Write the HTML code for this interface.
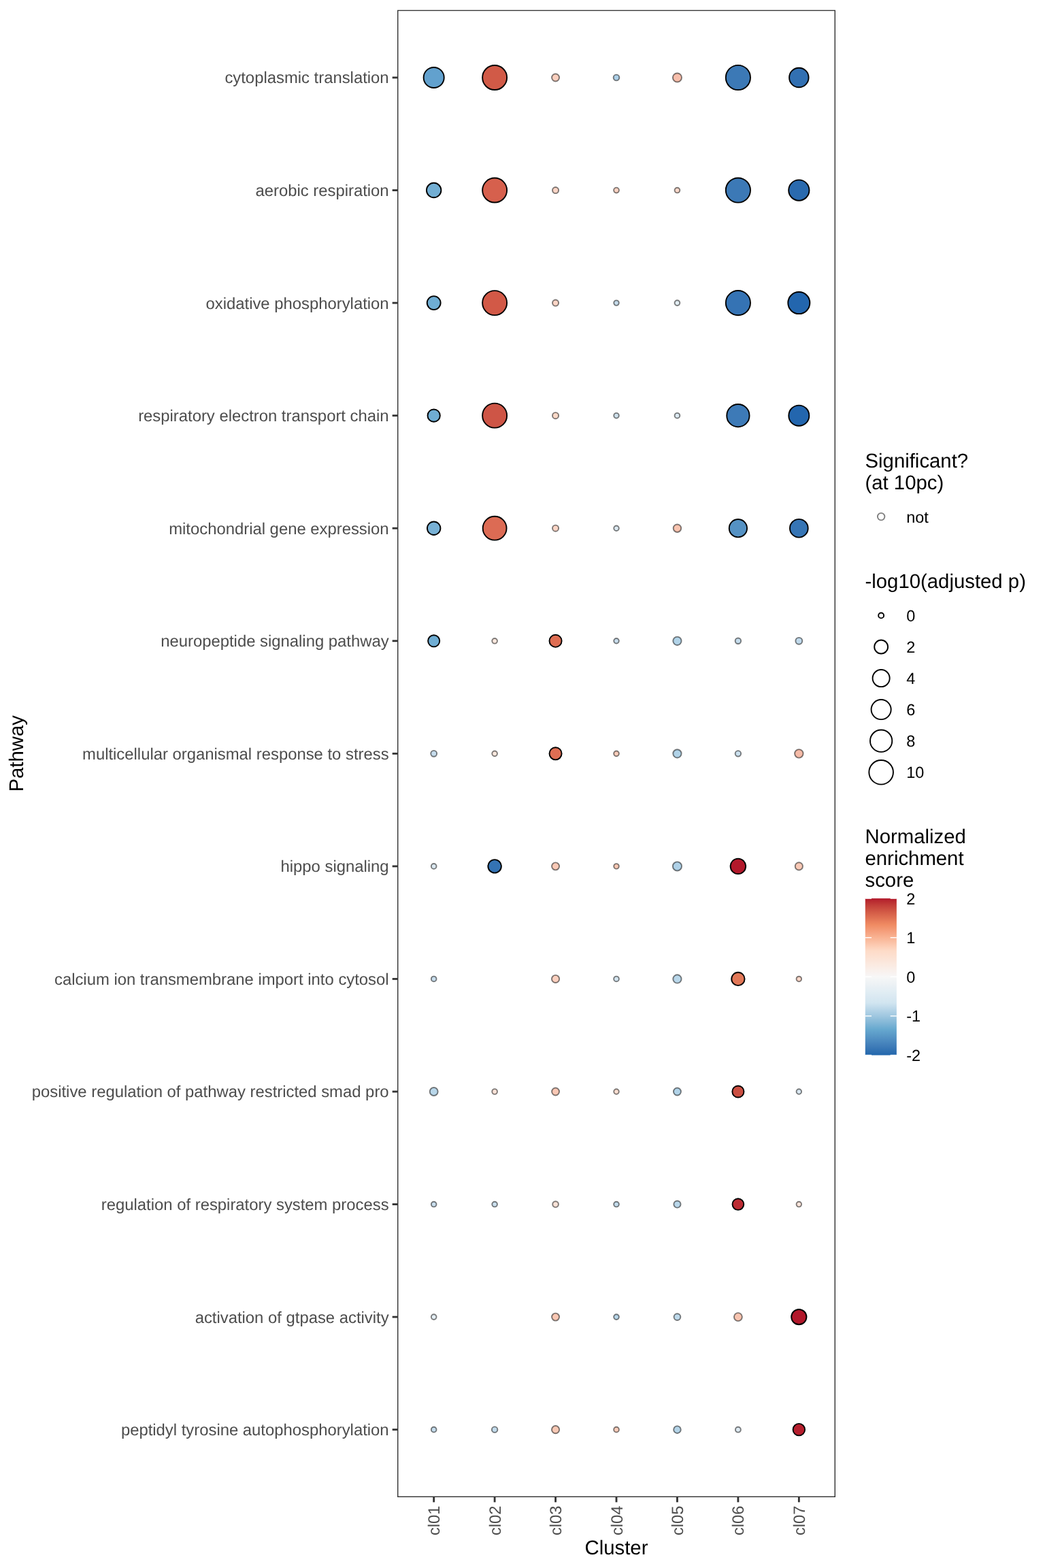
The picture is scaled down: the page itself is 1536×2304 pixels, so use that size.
<!DOCTYPE html>
<html lang="en"><head><meta charset="utf-8"><title>Pathway enrichment dot plot</title>
<style>html,body{margin:0;padding:0;background:#fff}svg{display:block}text{text-rendering:geometricPrecision;font-family:"Liberation Sans",Arial,Helvetica,sans-serif}.a{font-size:23.85px;fill:#4D4D4D}.t{font-size:29.33px;fill:#000}.l{font-size:23.47px;fill:#000}</style></head><body>
<svg width="1536" height="2304" viewBox="0 0 1536 2304">
<rect width="1536" height="2304" fill="#fff"/>
<defs><linearGradient id="g" x1="0" y1="0" x2="0" y2="1">
<stop offset="0.000%" stop-color="#B2182B"/>
<stop offset="2.083%" stop-color="#BA2D31"/>
<stop offset="4.167%" stop-color="#C23D38"/>
<stop offset="6.250%" stop-color="#CA4B3F"/>
<stop offset="8.333%" stop-color="#D15845"/>
<stop offset="10.417%" stop-color="#D9654C"/>
<stop offset="12.500%" stop-color="#E07153"/>
<stop offset="14.583%" stop-color="#E87E5B"/>
<stop offset="16.667%" stop-color="#EF8A62"/>
<stop offset="18.750%" stop-color="#F2946E"/>
<stop offset="20.833%" stop-color="#F59E7B"/>
<stop offset="22.917%" stop-color="#F7A987"/>
<stop offset="25.000%" stop-color="#F9B393"/>
<stop offset="27.083%" stop-color="#FABDA0"/>
<stop offset="29.167%" stop-color="#FCC7AD"/>
<stop offset="31.250%" stop-color="#FDD1BA"/>
<stop offset="33.333%" stop-color="#FDDBC7"/>
<stop offset="35.417%" stop-color="#FDDECD"/>
<stop offset="37.500%" stop-color="#FCE2D3"/>
<stop offset="39.583%" stop-color="#FBE5D9"/>
<stop offset="41.667%" stop-color="#FBE9DF"/>
<stop offset="43.750%" stop-color="#FAECE5"/>
<stop offset="45.833%" stop-color="#F9F0EB"/>
<stop offset="47.917%" stop-color="#F8F3F1"/>
<stop offset="50.000%" stop-color="#F7F7F7"/>
<stop offset="52.083%" stop-color="#F2F5F6"/>
<stop offset="54.167%" stop-color="#EEF2F5"/>
<stop offset="56.250%" stop-color="#E9F0F4"/>
<stop offset="58.333%" stop-color="#E4EEF4"/>
<stop offset="60.417%" stop-color="#DFECF3"/>
<stop offset="62.500%" stop-color="#DBE9F2"/>
<stop offset="64.583%" stop-color="#D6E7F1"/>
<stop offset="66.667%" stop-color="#D1E5F0"/>
<stop offset="68.750%" stop-color="#C5DDEC"/>
<stop offset="70.833%" stop-color="#B8D6E8"/>
<stop offset="72.917%" stop-color="#ABCEE4"/>
<stop offset="75.000%" stop-color="#9FC7E0"/>
<stop offset="77.083%" stop-color="#91BFDB"/>
<stop offset="79.167%" stop-color="#84B8D7"/>
<stop offset="81.250%" stop-color="#76B0D3"/>
<stop offset="83.333%" stop-color="#67A9CF"/>
<stop offset="85.417%" stop-color="#60A0CB"/>
<stop offset="87.500%" stop-color="#5998C6"/>
<stop offset="89.583%" stop-color="#518FC2"/>
<stop offset="91.667%" stop-color="#4987BE"/>
<stop offset="93.750%" stop-color="#417EB9"/>
<stop offset="95.833%" stop-color="#3776B5"/>
<stop offset="97.917%" stop-color="#2D6EB0"/>
<stop offset="100.000%" stop-color="#2166AC"/>
</linearGradient>
<clipPath id="pc"><rect x="584.0" y="14.67" width="644.0" height="2185.33"/></clipPath></defs>
<g stroke-width="1.89">
<circle cx="637.67" cy="114.00" r="15.05" fill="#62A1CE" stroke="#000"/>
<circle cx="727.11" cy="114.00" r="18.00" fill="#D15A47" stroke="#000"/>
<circle cx="816.56" cy="114.00" r="5.50" fill="#FACFBE" stroke="#000" stroke-opacity="0.5"/>
<circle cx="906.00" cy="114.00" r="4.35" fill="#ADD0E8" stroke="#000" stroke-opacity="0.5"/>
<circle cx="995.44" cy="114.00" r="6.55" fill="#F7BEAB" stroke="#000" stroke-opacity="0.5"/>
<circle cx="1084.89" cy="114.00" r="18.11" fill="#3C79B6" stroke="#000"/>
<circle cx="1174.33" cy="114.00" r="14.25" fill="#3270B2" stroke="#000"/>
<circle cx="637.67" cy="279.56" r="10.75" fill="#72AED3" stroke="#000"/>
<circle cx="727.11" cy="279.56" r="18.00" fill="#D6604D" stroke="#000"/>
<circle cx="816.56" cy="279.56" r="4.55" fill="#FBD5C6" stroke="#000" stroke-opacity="0.5"/>
<circle cx="906.00" cy="279.56" r="3.90" fill="#FBD3C3" stroke="#000" stroke-opacity="0.5"/>
<circle cx="995.44" cy="279.56" r="3.85" fill="#FBD9CB" stroke="#000" stroke-opacity="0.5"/>
<circle cx="1084.89" cy="279.56" r="18.11" fill="#3C79B6" stroke="#000"/>
<circle cx="1174.33" cy="279.56" r="15.16" fill="#2A6AAE" stroke="#000"/>
<circle cx="637.67" cy="445.11" r="9.96" fill="#6FADD3" stroke="#000"/>
<circle cx="727.11" cy="445.11" r="18.00" fill="#D25947" stroke="#000"/>
<circle cx="816.56" cy="445.11" r="4.55" fill="#FBD5C6" stroke="#000" stroke-opacity="0.5"/>
<circle cx="906.00" cy="445.11" r="3.76" fill="#C5DBEA" stroke="#000" stroke-opacity="0.5"/>
<circle cx="995.44" cy="445.11" r="3.85" fill="#E3EEF4" stroke="#000" stroke-opacity="0.5"/>
<circle cx="1084.89" cy="445.11" r="18.11" fill="#3573B4" stroke="#000"/>
<circle cx="1174.33" cy="445.11" r="16.05" fill="#2366AE" stroke="#000"/>
<circle cx="637.67" cy="610.67" r="9.15" fill="#6FADD3" stroke="#000"/>
<circle cx="727.11" cy="610.67" r="18.00" fill="#CE5546" stroke="#000"/>
<circle cx="816.56" cy="610.67" r="4.55" fill="#FBD9C8" stroke="#000" stroke-opacity="0.5"/>
<circle cx="906.00" cy="610.67" r="3.76" fill="#CFE1EC" stroke="#000" stroke-opacity="0.5"/>
<circle cx="995.44" cy="610.67" r="3.85" fill="#DDEAF2" stroke="#000" stroke-opacity="0.5"/>
<circle cx="1084.89" cy="610.67" r="16.66" fill="#3D7AB7" stroke="#000"/>
<circle cx="1174.33" cy="610.67" r="15.05" fill="#2366AE" stroke="#000"/>
<circle cx="637.67" cy="776.22" r="9.75" fill="#78B1D5" stroke="#000"/>
<circle cx="727.11" cy="776.22" r="17.45" fill="#DC6B54" stroke="#000"/>
<circle cx="816.56" cy="776.22" r="4.55" fill="#FBD5C6" stroke="#000" stroke-opacity="0.5"/>
<circle cx="906.00" cy="776.22" r="3.76" fill="#DCE9F1" stroke="#000" stroke-opacity="0.5"/>
<circle cx="995.44" cy="776.22" r="5.75" fill="#F9C4B0" stroke="#000" stroke-opacity="0.5"/>
<circle cx="1084.89" cy="776.22" r="13.15" fill="#5592C4" stroke="#000"/>
<circle cx="1174.33" cy="776.22" r="13.36" fill="#3675B5" stroke="#000"/>
<circle cx="637.67" cy="941.78" r="8.55" fill="#6FADD3" stroke="#000"/>
<circle cx="727.11" cy="941.78" r="3.85" fill="#FBE9DF" stroke="#000" stroke-opacity="0.5"/>
<circle cx="816.56" cy="941.78" r="9.05" fill="#DF6E53" stroke="#000"/>
<circle cx="906.00" cy="941.78" r="3.76" fill="#CADEED" stroke="#000" stroke-opacity="0.5"/>
<circle cx="995.44" cy="941.78" r="6.15" fill="#B1D3E8" stroke="#000" stroke-opacity="0.5"/>
<circle cx="1084.89" cy="941.78" r="4.25" fill="#C6DDED" stroke="#000" stroke-opacity="0.5"/>
<circle cx="1174.33" cy="941.78" r="4.96" fill="#C1DAEC" stroke="#000" stroke-opacity="0.5"/>
<circle cx="637.67" cy="1107.34" r="4.46" fill="#C6DCEC" stroke="#000" stroke-opacity="0.5"/>
<circle cx="727.11" cy="1107.34" r="3.85" fill="#FBE9DF" stroke="#000" stroke-opacity="0.5"/>
<circle cx="816.56" cy="1107.34" r="9.05" fill="#DF6E53" stroke="#000"/>
<circle cx="906.00" cy="1107.34" r="3.85" fill="#F8CDBB" stroke="#000" stroke-opacity="0.5"/>
<circle cx="995.44" cy="1107.34" r="6.15" fill="#B1D3E8" stroke="#000" stroke-opacity="0.5"/>
<circle cx="1084.89" cy="1107.34" r="4.25" fill="#CBE0EE" stroke="#000" stroke-opacity="0.5"/>
<circle cx="1174.33" cy="1107.34" r="6.25" fill="#F5BBA8" stroke="#000" stroke-opacity="0.5"/>
<circle cx="637.67" cy="1272.89" r="3.85" fill="#DCE9F1" stroke="#000" stroke-opacity="0.5"/>
<circle cx="727.11" cy="1272.89" r="9.75" fill="#3473B4" stroke="#000"/>
<circle cx="816.56" cy="1272.89" r="5.50" fill="#F9C9B6" stroke="#000" stroke-opacity="0.5"/>
<circle cx="906.00" cy="1272.89" r="3.76" fill="#F8C9B5" stroke="#000" stroke-opacity="0.5"/>
<circle cx="995.44" cy="1272.89" r="6.55" fill="#AFD1E7" stroke="#000" stroke-opacity="0.5"/>
<circle cx="1084.89" cy="1272.89" r="11.25" fill="#B2182B" stroke="#000"/>
<circle cx="1174.33" cy="1272.89" r="5.60" fill="#F9C9B6" stroke="#000" stroke-opacity="0.5"/>
<circle cx="637.67" cy="1438.45" r="3.85" fill="#C9DEED" stroke="#000" stroke-opacity="0.5"/>
<circle cx="816.56" cy="1438.45" r="5.60" fill="#FBD0BF" stroke="#000" stroke-opacity="0.5"/>
<circle cx="906.00" cy="1438.45" r="3.85" fill="#D4E5F0" stroke="#000" stroke-opacity="0.5"/>
<circle cx="995.44" cy="1438.45" r="6.15" fill="#B9D7EA" stroke="#000" stroke-opacity="0.5"/>
<circle cx="1084.89" cy="1438.45" r="9.65" fill="#E27858" stroke="#000"/>
<circle cx="1174.33" cy="1438.45" r="3.76" fill="#FBD7C9" stroke="#000" stroke-opacity="0.5"/>
<circle cx="637.67" cy="1604.00" r="5.96" fill="#B9D7EA" stroke="#000" stroke-opacity="0.5"/>
<circle cx="727.11" cy="1604.00" r="3.85" fill="#FCE4D9" stroke="#000" stroke-opacity="0.5"/>
<circle cx="816.56" cy="1604.00" r="5.46" fill="#F9C8B5" stroke="#000" stroke-opacity="0.5"/>
<circle cx="906.00" cy="1604.00" r="3.76" fill="#FBDFD2" stroke="#000" stroke-opacity="0.5"/>
<circle cx="995.44" cy="1604.00" r="5.50" fill="#B1D3E8" stroke="#000" stroke-opacity="0.5"/>
<circle cx="1084.89" cy="1604.00" r="8.55" fill="#CB4F42" stroke="#000"/>
<circle cx="1174.33" cy="1604.00" r="3.76" fill="#DAE8F2" stroke="#000" stroke-opacity="0.5"/>
<circle cx="637.67" cy="1769.56" r="3.85" fill="#C9DEED" stroke="#000" stroke-opacity="0.5"/>
<circle cx="727.11" cy="1769.56" r="3.85" fill="#CBE0EE" stroke="#000" stroke-opacity="0.5"/>
<circle cx="816.56" cy="1769.56" r="4.35" fill="#FBE3D8" stroke="#000" stroke-opacity="0.5"/>
<circle cx="906.00" cy="1769.56" r="3.85" fill="#C4DCEC" stroke="#000" stroke-opacity="0.5"/>
<circle cx="995.44" cy="1769.56" r="5.10" fill="#B9D7EA" stroke="#000" stroke-opacity="0.5"/>
<circle cx="1084.89" cy="1769.56" r="8.36" fill="#BC2B33" stroke="#000"/>
<circle cx="1174.33" cy="1769.56" r="3.76" fill="#FBE5DB" stroke="#000" stroke-opacity="0.5"/>
<circle cx="637.67" cy="1935.11" r="3.85" fill="#E5EFF5" stroke="#000" stroke-opacity="0.5"/>
<circle cx="816.56" cy="1935.11" r="5.50" fill="#F9C7B3" stroke="#000" stroke-opacity="0.5"/>
<circle cx="906.00" cy="1935.11" r="3.85" fill="#B9D7EA" stroke="#000" stroke-opacity="0.5"/>
<circle cx="995.44" cy="1935.11" r="4.90" fill="#BEDAEB" stroke="#000" stroke-opacity="0.5"/>
<circle cx="1084.89" cy="1935.11" r="5.96" fill="#F8C4B0" stroke="#000" stroke-opacity="0.5"/>
<circle cx="1174.33" cy="1935.11" r="11.15" fill="#B2182B" stroke="#000"/>
<circle cx="637.67" cy="2100.67" r="3.85" fill="#C6DDED" stroke="#000" stroke-opacity="0.5"/>
<circle cx="727.11" cy="2100.67" r="4.25" fill="#C4DCEC" stroke="#000" stroke-opacity="0.5"/>
<circle cx="816.56" cy="2100.67" r="5.60" fill="#F8C9B5" stroke="#000" stroke-opacity="0.5"/>
<circle cx="906.00" cy="2100.67" r="3.85" fill="#FACDBB" stroke="#000" stroke-opacity="0.5"/>
<circle cx="995.44" cy="2100.67" r="5.30" fill="#B4D4E8" stroke="#000" stroke-opacity="0.5"/>
<circle cx="1084.89" cy="2100.67" r="3.96" fill="#DEEAF2" stroke="#000" stroke-opacity="0.5"/>
<circle cx="1174.33" cy="2100.67" r="8.75" fill="#B61F2E" stroke="#000"/>
</g>
<rect x="584.0" y="14.67" width="644.0" height="2185.33" fill="none" stroke="#333" stroke-width="2.84" clip-path="url(#pc)"/>
<g stroke="#333" stroke-width="2.84">
<line x1="576.67" x2="584.00" y1="114.00" y2="114.00"/>
<line x1="576.67" x2="584.00" y1="279.56" y2="279.56"/>
<line x1="576.67" x2="584.00" y1="445.11" y2="445.11"/>
<line x1="576.67" x2="584.00" y1="610.67" y2="610.67"/>
<line x1="576.67" x2="584.00" y1="776.22" y2="776.22"/>
<line x1="576.67" x2="584.00" y1="941.78" y2="941.78"/>
<line x1="576.67" x2="584.00" y1="1107.34" y2="1107.34"/>
<line x1="576.67" x2="584.00" y1="1272.89" y2="1272.89"/>
<line x1="576.67" x2="584.00" y1="1438.45" y2="1438.45"/>
<line x1="576.67" x2="584.00" y1="1604.00" y2="1604.00"/>
<line x1="576.67" x2="584.00" y1="1769.56" y2="1769.56"/>
<line x1="576.67" x2="584.00" y1="1935.11" y2="1935.11"/>
<line x1="576.67" x2="584.00" y1="2100.67" y2="2100.67"/>
<line x1="637.67" x2="637.67" y1="2200.00" y2="2207.33"/>
<line x1="727.11" x2="727.11" y1="2200.00" y2="2207.33"/>
<line x1="816.56" x2="816.56" y1="2200.00" y2="2207.33"/>
<line x1="906.00" x2="906.00" y1="2200.00" y2="2207.33"/>
<line x1="995.44" x2="995.44" y1="2200.00" y2="2207.33"/>
<line x1="1084.89" x2="1084.89" y1="2200.00" y2="2207.33"/>
<line x1="1174.33" x2="1174.33" y1="2200.00" y2="2207.33"/>
</g>
<text class="a" x="571.60" y="122.40" text-anchor="end">cytoplasmic translation</text>
<text class="a" x="571.60" y="287.96" text-anchor="end">aerobic respiration</text>
<text class="a" x="571.60" y="453.51" text-anchor="end">oxidative phosphorylation</text>
<text class="a" x="571.60" y="619.07" text-anchor="end">respiratory electron transport chain</text>
<text class="a" x="571.60" y="784.62" text-anchor="end">mitochondrial gene expression</text>
<text class="a" x="571.60" y="950.18" text-anchor="end">neuropeptide signaling pathway</text>
<text class="a" x="571.60" y="1115.74" text-anchor="end">multicellular organismal response to stress</text>
<text class="a" x="571.60" y="1281.29" text-anchor="end">hippo signaling</text>
<text class="a" x="571.60" y="1446.85" text-anchor="end">calcium ion transmembrane import into cytosol</text>
<text class="a" x="571.60" y="1612.40" text-anchor="end">positive regulation of pathway restricted smad pro</text>
<text class="a" x="571.60" y="1777.96" text-anchor="end">regulation of respiratory system process</text>
<text class="a" x="571.60" y="1943.51" text-anchor="end">activation of gtpase activity</text>
<text class="a" x="571.60" y="2109.07" text-anchor="end">peptidyl tyrosine autophosphorylation</text>
<text class="a" transform="translate(646.17,2212.50) rotate(-90)" text-anchor="end">cl01</text>
<text class="a" transform="translate(735.61,2212.50) rotate(-90)" text-anchor="end">cl02</text>
<text class="a" transform="translate(825.06,2212.50) rotate(-90)" text-anchor="end">cl03</text>
<text class="a" transform="translate(914.50,2212.50) rotate(-90)" text-anchor="end">cl04</text>
<text class="a" transform="translate(1003.94,2212.50) rotate(-90)" text-anchor="end">cl05</text>
<text class="a" transform="translate(1093.39,2212.50) rotate(-90)" text-anchor="end">cl06</text>
<text class="a" transform="translate(1182.83,2212.50) rotate(-90)" text-anchor="end">cl07</text>
<text class="t" x="906.00" y="2283.7" text-anchor="middle">Cluster</text>
<text class="t" transform="translate(34.1,1107.34) rotate(-90)" text-anchor="middle">Pathway</text>
<text class="t" x="1271.5" y="686.9">Significant?</text>
<text class="t" x="1271.5" y="718.5">(at 10pc)</text>
<circle cx="1295.14" cy="759.1" r="5.25" fill="none" stroke="#000" stroke-opacity="0.5" stroke-width="1.89"/>
<text class="l" x="1332.25" y="767.6">not</text>
<text class="t" x="1271.5" y="863.9">-log10(adjusted p)</text>
<circle cx="1295.14" cy="904.4" r="3.96" fill="none" stroke="#000" stroke-width="1.89"/>
<text class="l" x="1332.25" y="912.80">0</text>
<circle cx="1295.14" cy="950.5" r="9.96" fill="none" stroke="#000" stroke-width="1.89"/>
<text class="l" x="1332.25" y="958.90">2</text>
<circle cx="1295.14" cy="996.6" r="12.55" fill="none" stroke="#000" stroke-width="1.89"/>
<text class="l" x="1332.25" y="1005.00">4</text>
<circle cx="1295.14" cy="1042.6" r="14.55" fill="none" stroke="#000" stroke-width="1.89"/>
<text class="l" x="1332.25" y="1051.00">6</text>
<circle cx="1295.14" cy="1088.7" r="16.16" fill="none" stroke="#000" stroke-width="1.89"/>
<text class="l" x="1332.25" y="1097.10">8</text>
<circle cx="1295.14" cy="1134.8" r="17.80" fill="none" stroke="#000" stroke-width="1.89"/>
<text class="l" x="1332.25" y="1143.20">10</text>
<text class="t" x="1271.5" y="1239.4">Normalized</text>
<text class="t" x="1271.5" y="1270.8">enrichment</text>
<text class="t" x="1271.5" y="1302.6">score</text>
<rect x="1271.80" y="1320.1" width="46.08" height="230.40" fill="url(#g)"/>
<g stroke="#fff" stroke-width="1.42">
<line x1="1271.80" x2="1281.00" y1="1320.10" y2="1320.10"/><line x1="1308.68" x2="1317.88" y1="1320.10" y2="1320.10"/>
<line x1="1271.80" x2="1281.00" y1="1377.70" y2="1377.70"/><line x1="1308.68" x2="1317.88" y1="1377.70" y2="1377.70"/>
<line x1="1271.80" x2="1281.00" y1="1435.30" y2="1435.30"/><line x1="1308.68" x2="1317.88" y1="1435.30" y2="1435.30"/>
<line x1="1271.80" x2="1281.00" y1="1492.90" y2="1492.90"/><line x1="1308.68" x2="1317.88" y1="1492.90" y2="1492.90"/>
<line x1="1271.80" x2="1281.00" y1="1550.50" y2="1550.50"/><line x1="1308.68" x2="1317.88" y1="1550.50" y2="1550.50"/>
</g>
<text class="l" x="1332.25" y="1328.60">2</text>
<text class="l" x="1332.25" y="1386.20">1</text>
<text class="l" x="1332.25" y="1443.80">0</text>
<text class="l" x="1332.25" y="1501.40">-1</text>
<text class="l" x="1332.25" y="1559.00">-2</text>
</svg></body></html>
